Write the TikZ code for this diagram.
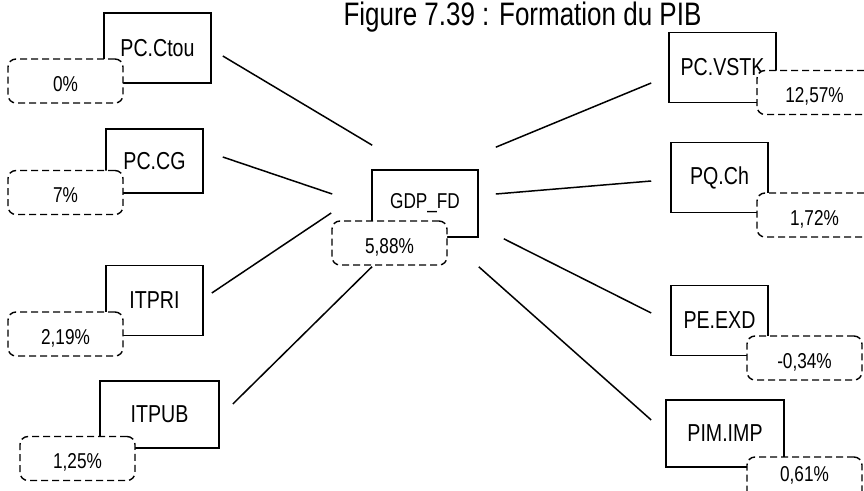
\documentclass[tikz,border=0pt]{standalone}
\usepackage{fontspec}
\setmainfont{Liberation Sans}[FakeStretch=0.80]

\begin{document}
\begin{tikzpicture}[x=1pt,y=-1pt]
   \tikzstyle{var}=[draw, line width=1.6pt, minimum height=70pt, font=\fontsize{24.5}{28}\selectfont]
   \tikzstyle{rate}=[draw, dashed, dash pattern=on 7pt off 4pt, line width=1.4pt, rounded corners=8pt,
                     fill=white, minimum width=115pt, minimum height=44pt, text height=20pt, text depth=0pt,
                     font=\fontsize{21.5}{24}\selectfont]
   \tikzstyle{link}=[line width=1.5pt]

\useasboundingbox (0,0) rectangle (864,490);

\node[anchor=base west, font=\fontsize{32.5}{36}\selectfont] (title) at (340,25) {Figure 7.39 : Formation du PIB};

% variables on the left
\node[var, minimum width=107pt] (ctou)  at (157.5,48)  {PC.Ctou};
\node[var, minimum width=97pt, minimum height=64pt] (cg) at (154.5,161) {PC.CG};
\node[var, minimum width=97pt]  (itpri) at (154.5,300.5) {ITPRI};
\node[var, minimum width=119pt, minimum height=67pt] (itpub) at (159.5,414.5) {ITPUB};

% central block
\node[var, minimum width=106pt, minimum height=67pt, font=\fontsize{21.5}{24}\selectfont] (gdp) at (425,203.5) {GDP\_FD};

% variables on the right
\node[var, minimum width=107pt] (vstk)   at (722.5,67.5) {PC.VSTK};
\node[var, minimum width=97pt]  (pqch)   at (719.5,177.5) {PQ.Ch};
\node[var, minimum width=97pt]  (peexd)  at (719.5,320.5) {PE.EXD};
\node[var, minimum width=118pt, minimum height=67pt] (pimimp) at (725,433.5) {PIM.IMP};

% growth rates
\node[rate] (ctou-r)   at (65.5,81)    {0\%};
\node[rate] (cg-r)     at (65.5,192.5) {7\%};
\node[rate] (itpri-r)  at (65.5,334)   {2,19\%};
\node[rate] (itpub-r)  at (77.5,458.5) {1,25\%};
\node[rate] (gdp-r)    at (389.5,243)  {5,88\%};
\node[rate] (vstk-r)   at (814.5,92.5) {12,57\%};
\node[rate] (pqch-r)   at (814.5,215)  {1,72\%};
\node[rate] (peexd-r)  at (804.5,358)  {-0,34\%};
\node[rate, text height=4pt] (pimimp-r) at (804.5,479)  {0,61\%};

% links to GDP_FD
\draw[link] ([shift={(11,8)}]ctou.east)    -- ([shift={(1,-24)}]gdp.north west);
\draw[link] ([shift={(19,-4)}]cg.east)     -- ([shift={(-39,-9.5)}]gdp.west);
\draw[link] ([shift={(8,-7.5)}]itpri.east) -- ([shift={(-40,9.5)}]gdp.west);
\draw[link] ([shift={(13,-10.5)}]itpub.east) -- ([shift={(-17.5,1)}]gdp-r.south);
\draw[link] ([shift={(-17,15.5)}]vstk.west)  -- ([shift={(17,-22)}]gdp.north east);
\draw[link] ([shift={(-19,3.5)}]pqch.west)   -- ([shift={(17,-9.5)}]gdp.east);
\draw[link] ([shift={(-19,-7.5)}]peexd.west) -- ([shift={(25,1)}]gdp.south east);
\draw[link] ([shift={(-14,-13.5)}]pimimp.west) -- ([shift={(0,29)}]gdp.south east);

\end{tikzpicture}
\end{document}
